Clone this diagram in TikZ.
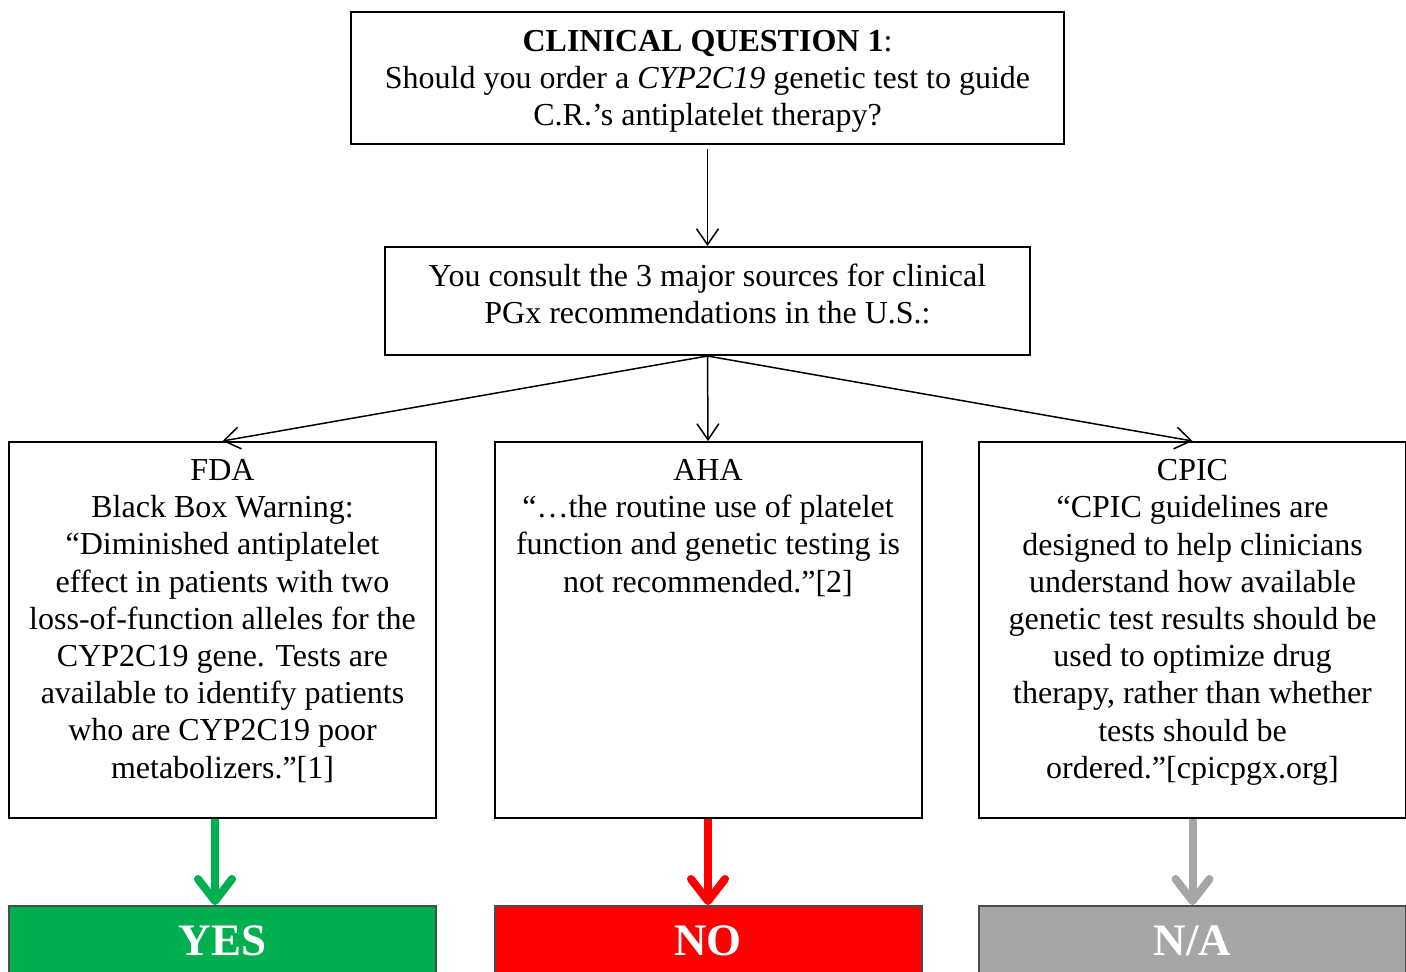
\documentclass[tikz,border=0pt]{standalone}
\usepackage{fontspec}
\setmainfont{Liberation Serif}
\usetikzlibrary{arrows.meta}
\definecolor{yesgreen}{HTML}{00B050}
\definecolor{nogray}{HTML}{A6A6A6}

\begin{document}
\begin{tikzpicture}[x=0.5pt, y=-0.5pt, >={Straight Barb[length=8pt, width=11pt]}]
\tikzset{
  box/.style={draw, line width=1pt, inner sep=0pt, align=center,
              font=\fontsize{16}{18.6}\selectfont},
  source/.style={box, minimum width=213.5pt, minimum height=188pt},
  txt/.style={anchor=north, align=center, inner sep=0pt,
              font=\fontsize{16}{18.6}\selectfont},
  verdict/.style={draw=black!70, line width=1pt, minimum width=213.5pt, minimum height=35pt,
                  text=white, font=\fontsize{22.5}{24}\selectfont\bfseries},
  link/.style={->, line width=0.75pt},
  fat/.style={-{Straight Barb[round, length=11pt, width=17pt]}, line width=4pt}
  };

\useasboundingbox (0,0) rectangle (1406,971);
\clip (0,0) rectangle (1406,971);

\node[box, minimum width=356.5pt, minimum height=66pt, text depth=0pt] (question) at (707.5,78)
  {\textbf{CLINICAL QUESTION 1}:\\ Should you order a \textit{CYP2C19} genetic test to guide\\ C.R.’s antiplatelet therapy?};
\node[box, minimum width=322.5pt, minimum height=54pt, text depth=7pt] (consult) at (707.5,301)
  {You consult the 3 major sources for clinical\\ PGx recommendations in the U.S.:};

\node[source] (fda)  at (222.5,630)  {};
\node[source] (aha)  at (708,630)    {};
\node[source] (cpic) at (1192.5,630) {};

\node[txt, yshift=-9pt] (fdatext) at (fda.north)
  {FDA\\ Black Box Warning:\\ “Diminished antiplatelet\\ effect in patients with two\\ loss-of-function alleles for the\\ CYP2C19 gene. Tests are\\ available to identify patients\\ who are CYP2C19 poor\\ metabolizers.”[1]};
\node[txt, yshift=-9pt] (ahatext) at (aha.north)
  {AHA\\ “…the routine use of platelet\\ function and genetic testing is\\ not recommended.”[2]};
\node[txt, yshift=-9pt] (cpictext) at (cpic.north)
  {CPIC\\ “CPIC guidelines are\\ designed to help clinicians\\ understand how available\\ genetic test results should be\\ used to optimize drug\\ therapy, rather than whether\\ tests should be\\ ordered.”[cpicpgx.org]};

\node[verdict, fill=yesgreen] (yes) at (222.5,941)  {YES};
\node[verdict, fill=red]      (no)  at (708,941)    {NO};
\node[verdict, fill=nogray]   (na)  at (1192.5,941) {N/A};

\draw[link, shorten <=2pt] (question) -- (consult);
\draw[link] (consult.south) -- (fda.north);
\draw[link] (consult.south) -- (aha.north);
\draw[link] (consult.south) -- (cpic.north);

\draw[fat, yesgreen] ([xshift=-3.75pt]fda.south) -- ([xshift=-3.75pt]yes.north);
\draw[fat, red]      (aha.south)  -- (no.north);
\draw[fat, nogray]   (cpic.south) -- (na.north);

\end{tikzpicture}
\end{document}
